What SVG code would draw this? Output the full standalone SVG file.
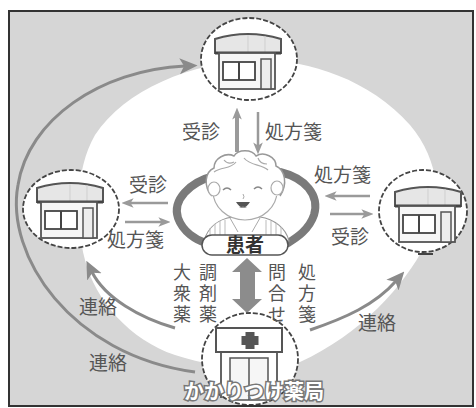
<svg xmlns="http://www.w3.org/2000/svg" width="476" height="408" viewBox="0 0 476 408">
  <style>
    .lbl { font-family: "Noto Sans CJK JP", "Noto Sans", sans-serif; font-size: 19px; fill: #555; }
    .vlbl { font-family: "Noto Sans CJK JP", "Noto Sans", sans-serif; font-size: 18px; fill: #555; writing-mode: vertical-rl; letter-spacing: 3px; }
    .ring { fill: #fff; stroke: #444; stroke-width: 1.8; stroke-dasharray: 5 2; }
    .thin { fill: none; stroke: #9a9a9a; stroke-width: 2.5; }
    .arc { fill: none; stroke: #8a8a8a; stroke-width: 3; }
    .ln { stroke: #555; stroke-width: 1.8; }
  </style>
  <defs>
    <marker id="headLight" viewBox="0 0 10 10" refX="3" refY="5" markerWidth="12" markerHeight="12" markerUnits="userSpaceOnUse" orient="auto">
      <path d="M0,1 L10,5 L0,9 L2.5,5 Z" fill="#9a9a9a"/>
    </marker>
    <marker id="headArc" viewBox="0 0 10 10" refX="3" refY="5" markerWidth="18" markerHeight="18" markerUnits="userSpaceOnUse" orient="auto">
      <path d="M0,0.5 L10,5 L0,9.5 L2.5,5 Z" fill="#8a8a8a"/>
    </marker>
    <!-- shop building: roof, front, window, door -->
    <g id="house">
      <path d="M0,21 L0,7 Q33,-3 66,7 L66,21 Z" fill="#e6e6e6" stroke="#555" stroke-width="2"/>
      <path d="M33,3 V20 M50,4 V20" stroke="#cfcfcf" stroke-width="1"/>
      <line x1="0" y1="21" x2="66" y2="21" stroke="#444" stroke-width="3"/>
      <rect x="4" y="21" width="56" height="36" fill="#f6f6f6" class="ln"/>
      <rect x="8" y="30" width="32" height="18" fill="#fff" stroke="#444" stroke-width="1.8"/>
      <line x1="24" y1="30" x2="24" y2="48" stroke="#444" stroke-width="2"/>
      <rect x="46" y="27" width="10" height="30" fill="#eee" stroke="#555" stroke-width="1.5"/>
    </g>
    <clipPath id="frameClip"><rect x="9" y="11" width="464" height="395"/></clipPath>
  </defs>

  <rect width="476" height="408" fill="#fff"/>

  <!-- backdrop: grey panel with white centre field -->
  <g clip-path="url(#frameClip)">
    <rect x="9" y="11" width="464" height="395" fill="#d6d6d6"/>
    <path d="M258,60 C310,60 370,80 410,125 C440,160 445,210 425,245 C405,285 360,335 300,362 C270,372 220,370 175,355 C130,340 95,300 85,260 C75,220 75,170 95,135 C125,90 190,62 258,60 Z" fill="#fff"/>
  </g>

  <!-- connectors -->
  <g id="connectors">
    <!-- top clinic -->
    <line x1="237" y1="152" x2="237" y2="116" stroke="#9a9a9a" stroke-width="4" marker-end="url(#headLight)"/>
    <line x1="258" y1="112" x2="258" y2="146" class="thin" stroke-width="2" marker-end="url(#headLight)"/>
    <!-- left clinic -->
    <line x1="168" y1="203" x2="130" y2="203" class="thin" marker-end="url(#headLight)"/>
    <line x1="125" y1="222" x2="162" y2="222" class="thin" marker-end="url(#headLight)"/>
    <!-- right clinic -->
    <line x1="370" y1="196" x2="333" y2="196" class="thin" marker-end="url(#headLight)"/>
    <line x1="330" y1="214" x2="365" y2="214" class="thin" marker-end="url(#headLight)"/>
    <!-- pharmacy liaison arcs -->
    <path d="M195,372 C70,355 5,255 18,185 C28,120 100,70 185,66" class="arc" marker-end="url(#headArc)"/>
    <path d="M175,328 C140,318 105,298 92,272" class="arc" marker-end="url(#headArc)"/>
    <path d="M310,330 C345,318 375,305 396,281" class="arc" marker-end="url(#headArc)"/>
    <!-- patient / pharmacy two-way arrow -->
    <path d="M247,258 L262,272 L255,272 L255,299 L262,299 L247,313 L232,299 L240,299 L240,272 L232,272 Z" fill="#8c8c8c"/>
  </g>

  <!-- clinics -->
  <g id="clinic-top">
    <ellipse class="ring" cx="249" cy="59" rx="48" ry="41"/>
    <use href="#house" transform="translate(215,32)"/>
  </g>
  <g id="clinic-left">
    <ellipse class="ring" cx="71" cy="209" rx="48" ry="39"/>
    <use href="#house" transform="translate(37,181)"/>
  </g>
  <g id="clinic-right">
    <ellipse class="ring" cx="423" cy="211" rx="44" ry="41"/>
    <use href="#house" transform="translate(395,185)"/>
    <line x1="418" y1="254" x2="433" y2="254" stroke="#444" stroke-width="2"/>
  </g>

  <!-- patient -->
  <g id="patient">
    <path d="M214,176 C190,182 172,200 178,218 C183,232 196,240 206,243" fill="none" stroke="#7a7a7a" stroke-width="8" stroke-linecap="round"/>
    <path d="M280,172 C305,178 320,195 314,215 C309,230 296,238 288,243" fill="none" stroke="#7a7a7a" stroke-width="8" stroke-linecap="round"/>
    <path d="M204,241 C208,226 220,219 232,217 L260,217 C274,219 286,228 289,241 Z" fill="#fff" stroke="#999" stroke-width="1.2"/>
    <path d="M210,238 V228 M215,238 V224 M220,238 V221 M225,238 V220 M266,238 V220 M271,238 V221 M276,238 V223 M281,238 V227" stroke="#bbb" stroke-width="1"/>
    <path d="M230,218 L238,232 M260,218 L252,232" stroke="#aaa" stroke-width="1"/>
    <ellipse cx="245" cy="191" rx="32" ry="29" fill="#fff" stroke="#aaa" stroke-width="1.2"/>
    <path d="M212,196 C203,186 205,172 214,168 C214,158 226,152 234,156 C238,149 252,149 256,156 C264,151 276,157 276,166 C285,170 288,184 280,196" fill="#fff" stroke="#999" stroke-width="1.5"/>
    <path d="M214,172 C222,166 230,170 236,162 M244,158 C250,166 262,164 268,170 M224,160 q4,5 10,2 M258,158 q2,6 9,6" fill="none" stroke="#aaa" stroke-width="1.2"/>
    <ellipse cx="214" cy="189" rx="6" ry="7" fill="#fff" stroke="#aaa" stroke-width="1.2"/>
    <ellipse cx="277" cy="188" rx="6" ry="7" fill="#fff" stroke="#aaa" stroke-width="1.2"/>
    <path d="M223,190 q4,-4 8,0 M254,189 q4,-4 8,0" fill="none" stroke="#888" stroke-width="1.5"/>
    <path d="M243,194 q2,3 0,5" fill="none" stroke="#aaa" stroke-width="1"/>
    <path d="M236,202 q7,11 14,0 Z" fill="#555"/>
    <path d="M239,208 q4,-3 8,0" fill="#999"/>
    <rect x="202" y="235" width="86" height="20" rx="10" fill="#fff" stroke="#555" stroke-width="1.5"/>
    <text x="245" y="252" text-anchor="middle" font-family="Noto Sans CJK JP, Noto Sans, sans-serif" font-size="19" font-weight="bold" fill="#333">患者</text>
  </g>

  <!-- family pharmacy -->
  <g id="pharmacy">
    <ellipse class="ring" cx="250" cy="359" rx="48" ry="46"/>
    <path d="M221,352 V398 M277,352 V398" class="ln"/>
    <rect x="230" y="358" width="38" height="42" fill="#f6f6f6" stroke="#555" stroke-width="1.5"/>
    <line x1="249" y1="358" x2="249" y2="400" stroke="#555" stroke-width="1.5"/>
    <rect x="216" y="328" width="66" height="24" fill="#fff" stroke="#555" stroke-width="2"/>
    <rect x="245.5" y="332" width="9" height="17" fill="#555"/>
    <rect x="241.5" y="336" width="17" height="9" fill="#555"/>
    <text x="254" y="399" text-anchor="middle" font-family="Noto Sans CJK JP, Noto Sans, sans-serif" font-size="20" font-weight="bold" fill="#fff" stroke="#777" stroke-width="3" paint-order="stroke">かかりつけ薬局</text>
  </g>

  <!-- connector labels -->
  <g id="labels">
    <text class="lbl" x="182" y="139">受診</text>
    <text class="lbl" x="265" y="139">処方箋</text>
    <text class="lbl" x="129" y="192">受診</text>
    <text class="lbl" x="107" y="247">処方箋</text>
    <text class="lbl" x="314" y="182" font-size="18">処方箋</text>
    <text class="lbl" x="331" y="244">受診</text>
    <text class="lbl" x="79" y="314">連絡</text>
    <text class="lbl" x="89" y="370">連絡</text>
    <text class="lbl" x="358" y="330">連絡</text>
    <text class="vlbl" x="182" y="263">大衆薬</text>
    <text class="vlbl" x="208" y="263">調剤薬</text>
    <text class="vlbl" x="277" y="263">問合せ</text>
    <text class="vlbl" x="307" y="263">処方箋</text>
  </g>

  <!-- frame -->
  <rect x="9" y="11" width="464" height="395" fill="none" stroke="#333" stroke-width="2"/>
</svg>
